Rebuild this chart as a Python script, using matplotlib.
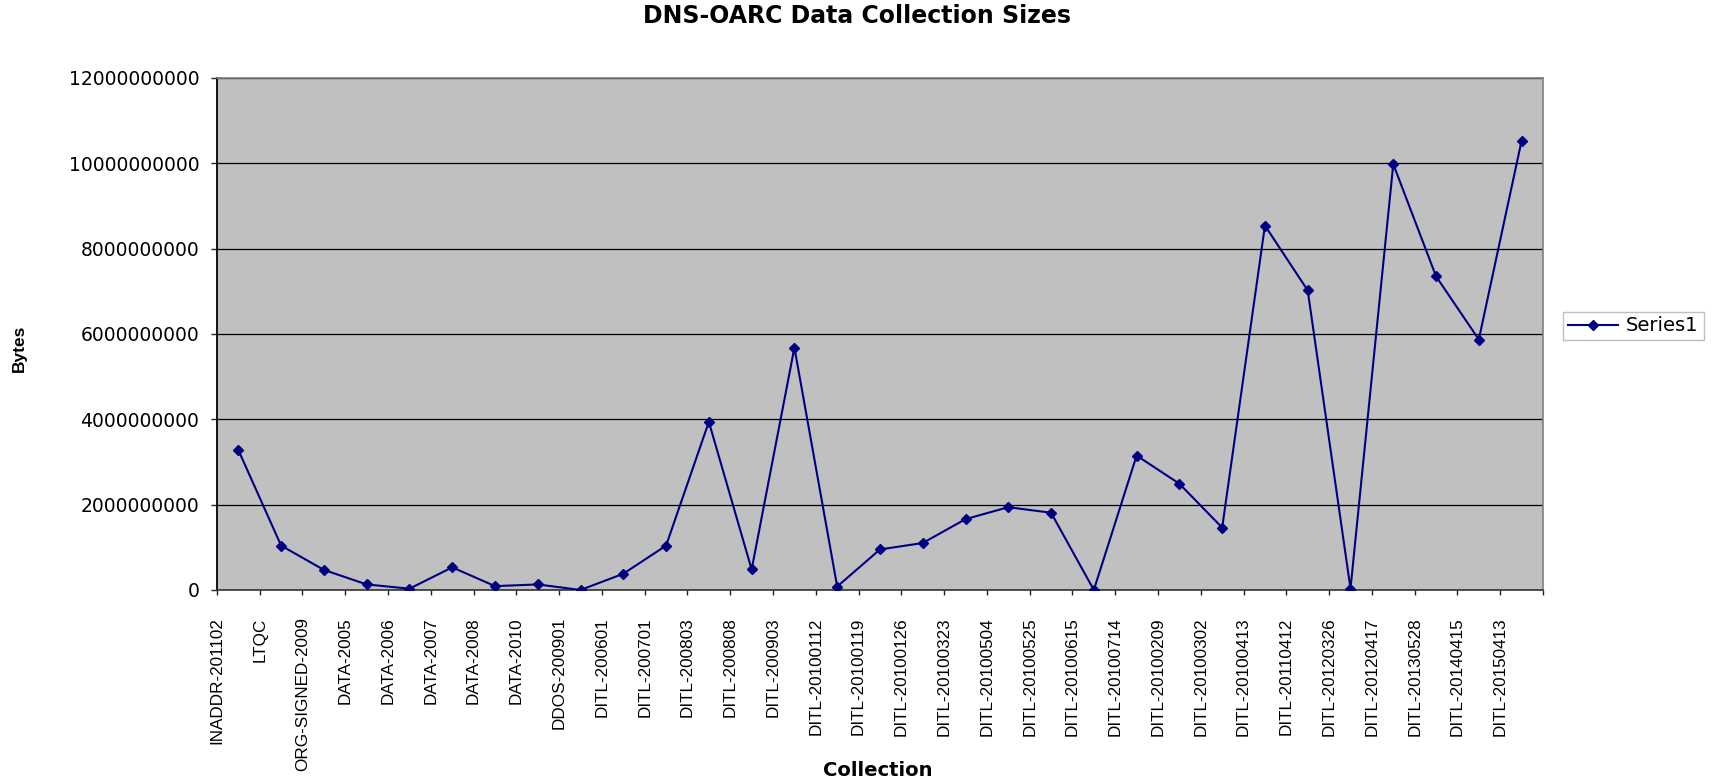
from __future__ import annotations

import matplotlib

matplotlib.use("Agg")
import matplotlib.pyplot as plt
import numpy as np
from matplotlib.ticker import FuncFormatter, MultipleLocator


COLLECTIONS = [
    "INADDR-201102", "LTQC", "ORG-SIGNED-2009", "DATA-2005", "DATA-2006",
    "DATA-2007", "DATA-2008", "DATA-2010", "DDOS-200901", "DITL-200601",
    "DITL-200701", "DITL-200803", "DITL-200808", "DITL-200903", "DITL-20100112",
    "DITL-20100119", "DITL-20100126", "DITL-20100323", "DITL-20100504", "DITL-20100525",
    "DITL-20100615", "DITL-20100714", "DITL-20100209", "DITL-20100302", "DITL-20100413",
    "DITL-20110412", "DITL-20120326", "DITL-20120417", "DITL-20130528", "DITL-20140415",
    "DITL-20150413",
]

SIZES_BYTES = [
    3.28e9, 1.04e9, 0.47e9, 0.13e9, 0.03e9,
    0.53e9, 0.09e9, 0.13e9, 0.0, 0.38e9,
    1.04e9, 3.94e9, 0.48e9, 5.68e9, 0.08e9,
    0.95e9, 1.10e9, 1.66e9, 1.94e9, 1.81e9,
    0.0, 3.15e9, 2.49e9, 1.46e9, 8.54e9,
    7.02e9, 0.03e9, 9.98e9, 7.35e9, 5.87e9,
    10.53e9,
]

SERIES_NAME = "Series1"
Y_MAX = 12e9
Y_STEP = 2e9

LINE_COLOR = "#000080"
PLOT_BG = "#c0c0c0"
TEXT_FONT = ["DejaVu Sans"]
NARROW_FONT = ["Liberation Sans", "DejaVu Sans"]


def main() -> None:
    fig = plt.figure(figsize=(17.15, 7.81), dpi=100)
    ax = fig.add_axes([0.1265, 0.2446, 0.7732, 0.6556])
    ax.set_facecolor(PLOT_BG)

    n = len(COLLECTIONS)
    x = np.arange(n) + 0.5
    (line,) = ax.plot(
        x, SIZES_BYTES, color=LINE_COLOR, linewidth=1.5,
        marker="D", markersize=5.5, markerfacecolor=LINE_COLOR,
        markeredgecolor=LINE_COLOR, label=SERIES_NAME, zorder=3,
    )

    ax.set_xlim(0, n)
    ax.set_ylim(0, Y_MAX)

    # category labels sit on the tick marks between categories
    ax.set_xticks(np.arange(n + 1))
    ax.set_xticklabels(COLLECTIONS + [""], rotation=90, fontsize=12.3, family=NARROW_FONT)
    ax.tick_params(axis="x", direction="out", length=3.6, width=1, color="#222222", pad=16)

    ax.yaxis.set_major_locator(MultipleLocator(Y_STEP))
    ax.yaxis.set_major_formatter(FuncFormatter(lambda v, _: f"{int(round(v))}"))
    for lbl in ax.get_yticklabels():
        lbl.set_fontsize(13.5)
        lbl.set_family(TEXT_FONT)
    ax.tick_params(axis="y", direction="out", length=4.3, width=1, color="#222222", pad=8.5)

    ax.grid(axis="y", color="black", linewidth=0.9, zorder=1)
    ax.set_axisbelow(True)

    ax.spines["left"].set_color("#111111")
    ax.spines["left"].set_linewidth(1.4)
    ax.spines["bottom"].set_color("#333333")
    ax.spines["bottom"].set_linewidth(1.2)
    ax.spines["top"].set_color("#808080")
    ax.spines["top"].set_linewidth(1.2)
    ax.spines["right"].set_color("#808080")
    ax.spines["right"].set_linewidth(1.2)

    fig.text(0.5, 0.979, "DNS-OARC Data Collection Sizes", ha="center", va="center",
             fontsize=17, fontweight="bold", family=TEXT_FONT)
    fig.text(0.512, 0.0135, "Collection", ha="center", va="center",
             fontsize=14, fontweight="bold", family=TEXT_FONT)
    fig.text(0.0112, 0.554, "Bytes", ha="center", va="center", rotation=90,
             fontsize=12.5, fontweight="bold", family=NARROW_FONT)

    leg = fig.legend(
        handles=[line], loc="center left", bbox_to_anchor=(0.9114, 0.5826),
        prop={"family": TEXT_FONT[0], "size": 14}, fancybox=False,
        handlelength=2.6, handletextpad=0.4, borderpad=0.25, borderaxespad=0,
    )
    leg.get_frame().set_edgecolor("#b0b0b0")
    leg.get_frame().set_linewidth(1.0)

    fig.savefig("out.png", dpi=100)
    plt.close(fig)


if __name__ == "__main__":
    main()
